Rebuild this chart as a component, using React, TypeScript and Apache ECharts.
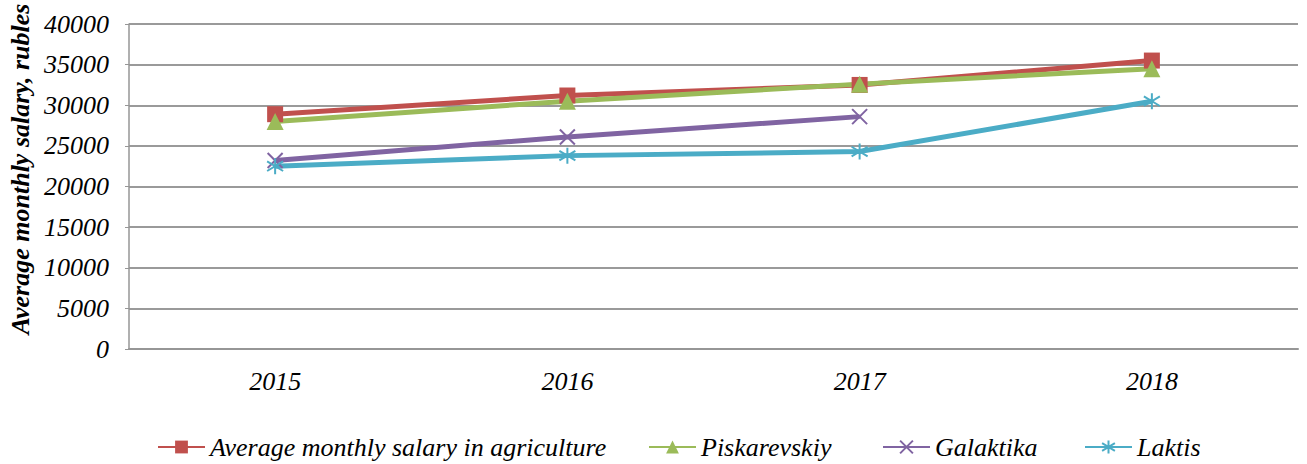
import React, { useEffect, useRef } from "react";
import * as echarts from "echarts";

const years = ["2015", "2016", "2017", "2018"];
const agriculture = [28900, 31200, 32500, 35500];
const piskarevskiy = [28000, 30500, 32600, 34500];
const galaktika = [23200, 26100, 28600, null];
const laktis = [22500, 23800, 24300, 30500];
const yTitle = "Average monthly salary, rubles";

const FONT = "Liberation Serif";
const xPath = "path://M0,0 L10,10 M10,0 L0,10";
const starPath = "path://M5,0 L5,10 M0,2 L10,8 M0,8 L10,2";

export default function App() {
  const ref = useRef<HTMLDivElement>(null);
  useEffect(() => {
    if (!ref.current) return;
    const chart = echarts.init(ref.current, null, { renderer: "svg" });
    const textStyle = { fontFamily: FONT, fontStyle: "italic", fontSize: 26, color: "#000" };
    const mkLegend = (name: string, left: number) => ({
      data: [name],
      left,
      top: 429,
      itemWidth: 47,
      itemHeight: 16,
      textStyle,
    });
    chart.setOption({
      animation: false,
      grid: { left: 129, right: 9, top: 24, bottom: 115, containLabel: false },
      legend: [
        mkLegend("Average monthly salary in agriculture", 152),
        mkLegend("Piskarevskiy", 643),
        mkLegend("Galaktika", 877),
        mkLegend("Laktis", 1079),
      ],
      graphic: [
        {
          type: "text",
          x: 20,
          y: 169,
          rotation: Math.PI / 2,
          style: {
            text: yTitle,
            fontFamily: FONT,
            fontStyle: "italic",
            fontWeight: "bold",
            fontSize: 26,
            fill: "#000",
            align: "center",
            verticalAlign: "middle",
          },
        },
      ],
      xAxis: {
        type: "category",
        data: years,
        boundaryGap: true,
        axisLine: { lineStyle: { color: "#969696", width: 2 } },
        axisTick: { show: false },
        axisLabel: { ...textStyle, margin: 19 },
      },
      yAxis: {
        type: "value",
        min: 0,
        max: 40000,
        interval: 5000,
        axisLine: { show: true, lineStyle: { color: "#969696", width: 1.5 } },
        axisTick: { show: true, length: 4, lineStyle: { color: "#969696" } },
        axisLabel: { ...textStyle, margin: 20, formatter: (v: number) => String(v) },
        splitLine: { lineStyle: { color: "#9a9a9a", width: 2 } },
      },
      series: [
        {
          name: "Average monthly salary in agriculture",
          type: "line",
          data: agriculture,
          symbol: "rect",
          symbolSize: 16,
          lineStyle: { color: "#C0504D", width: 5 },
          itemStyle: { color: "#C0504D" },
        },
        {
          name: "Piskarevskiy",
          type: "line",
          data: piskarevskiy,
          symbol: "triangle",
          symbolSize: 17,
          lineStyle: { color: "#9BBB59", width: 5 },
          itemStyle: { color: "#9BBB59" },
        },
        {
          name: "Galaktika",
          type: "line",
          data: galaktika,
          symbol: xPath,
          symbolSize: 15,
          lineStyle: { color: "#8064A2", width: 5 },
          itemStyle: { color: "#8064A2", borderColor: "#8064A2", borderWidth: 2 },
        },
        {
          name: "Laktis",
          type: "line",
          data: laktis,
          symbol: starPath,
          symbolSize: 16,
          lineStyle: { color: "#4BACC6", width: 5 },
          itemStyle: { color: "#4BACC6", borderColor: "#4BACC6", borderWidth: 2 },
        },
      ],
    });
    return () => chart.dispose();
  }, []);
  return (
    <div
      ref={ref}
      style={{ position: "fixed", left: 0, top: 0, width: 1307, height: 464, background: "#fff" }}
    />
  );
}
